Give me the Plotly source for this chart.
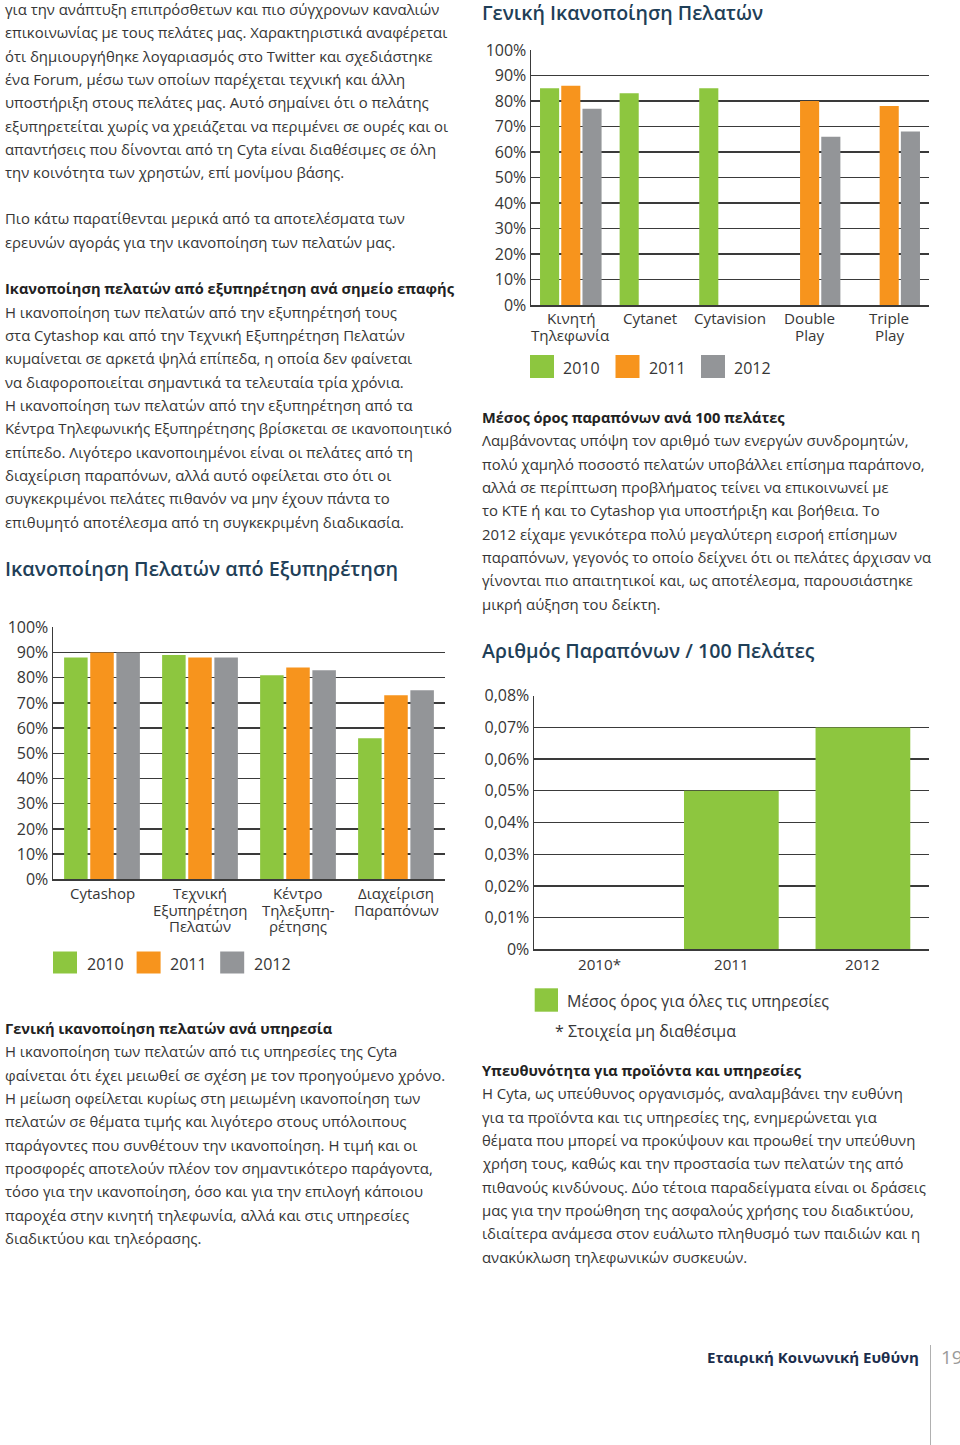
import plotly.graph_objects as go

W, H = 960, 1445

# ---------------- DATA ----------------
years = ["2010", "2011", "2012"]
year_colors = ["#8DC63F", "#F7941D", "#939598"]

# Γενική Ικανοποίηση Πελατών (per service)
services = ["Κινητή Τηλεφωνία", "Cytanet", "Cytavision", "Double Play", "Triple Play"]
service_label_lines = [["Κινητή", "Τηλεφωνία"], ["Cytanet"], ["Cytavision"], ["Double", "Play"], ["Triple", "Play"]]
services_2010 = [85, 83, 85, None, None]
services_2011 = [86, None, None, 80, 78]
services_2012 = [77, None, None, 66, 68]

# Ικανοποίηση Πελατών από Εξυπηρέτηση (per touch point)
touchpoints = ["Cytashop", "Τεχνική Εξυπηρέτηση Πελατών", "Κέντρο Τηλεξυπηρέτησης", "Διαχείριση Παραπόνων"]
touch_label_lines = [["Cytashop"], ["Τεχνική", "Εξυπηρέτηση", "Πελατών"], ["Κέντρο", "Τηλεξυπη-", "ρέτησης"], ["Διαχείριση", "Παραπόνων"]]
touch_2010 = [88, 89, 81, 56]
touch_2011 = [90, 88, 84, 73]
touch_2012 = [90, 88, 83, 75]

# Αριθμός Παραπόνων / 100 Πελάτες
complaint_years = [2010, 2011, 2012]
complaint_labels = ["2010*", "2011", "2012"]
complaints = [None, 0.05, 0.07]
complaint_legend = "Μέσος όρος για όλες τις υπηρεσίες"
complaint_note = "* Στοιχεία μη διαθέσιμα"

pct_tickvals = [0, 10, 20, 30, 40, 50, 60, 70, 80, 90, 100]
pct_ticktext = ["0%", "10%", "20%", "30%", "40%", "50%", "60%", "70%", "80%", "90%", "100%"]
cmp_tickvals = [0, 0.01, 0.02, 0.03, 0.04, 0.05, 0.06, 0.07, 0.08]
cmp_ticktext = ["0%", "0,01%", "0,02%", "0,03%", "0,04%", "0,05%", "0,06%", "0,07%", "0,08%"]

# ---------------- TEXT ----------------
left_top = [
    "για την ανάπτυξη επιπρόσθετων και πιο σύγχρονων καναλιών",
    "επικοινωνίας με τους πελάτες μας. Χαρακτηριστικά αναφέρεται",
    "ότι δημιουργήθηκε λογαριασμός στο Twitter και σχεδιάστηκε",
    "ένα Forum, μέσω των οποίων παρέχεται τεχνική και άλλη",
    "υποστήριξη στους πελάτες μας. Αυτό σημαίνει ότι ο πελάτης",
    "εξυπηρετείται χωρίς να χρειάζεται να περιμένει σε ουρές και οι",
    "απαντήσεις που δίνονται από τη Cyta είναι διαθέσιμες σε όλη",
    "την κοινότητα των χρηστών, επί μονίμου βάσης.",
]
left_intro = [
    "Πιο κάτω παρατίθενται μερικά από τα αποτελέσματα των",
    "ερευνών αγοράς για την ικανοποίηση των πελατών μας.",
]
left_touch_head = "Ικανοποίηση πελατών από εξυπηρέτηση ανά σημείο επαφής"
left_touch = [
    "Η ικανοποίηση των πελατών από την εξυπηρέτησή τους",
    "στα Cytashop και από την Τεχνική Εξυπηρέτηση Πελατών",
    "κυμαίνεται σε αρκετά ψηλά επίπεδα, η οποία δεν φαίνεται",
    "να διαφοροποιείται σημαντικά τα τελευταία τρία χρόνια.",
    "Η ικανοποίηση των πελατών από την εξυπηρέτηση από τα",
    "Κέντρα Τηλεφωνικής Εξυπηρέτησης βρίσκεται σε ικανοποιητικό",
    "επίπεδο. Λιγότερο ικανοποιημένοι είναι οι πελάτες από τη",
    "διαχείριση παραπόνων, αλλά αυτό οφείλεται στο ότι οι",
    "συγκεκριμένοι πελάτες πιθανόν να μην έχουν πάντα το",
    "επιθυμητό αποτέλεσμα από τη συγκεκριμένη διαδικασία.",
]
left_serv_head = "Γενική ικανοποίηση πελατών ανά υπηρεσία"
left_serv = [
    "Η ικανοποίηση των πελατών από τις υπηρεσίες της Cyta",
    "φαίνεται ότι έχει μειωθεί σε σχέση με τον προηγούμενο χρόνο.",
    "Η μείωση οφείλεται κυρίως στη μειωμένη ικανοποίηση των",
    "πελατών σε θέματα τιμής και λιγότερο στους υπόλοιπους",
    "παράγοντες που συνθέτουν την ικανοποίηση. Η τιμή και οι",
    "προσφορές αποτελούν πλέον τον σημαντικότερο παράγοντα,",
    "τόσο για την ικανοποίηση, όσο και για την επιλογή κάποιου",
    "παροχέα στην κινητή τηλεφωνία, αλλά και στις υπηρεσίες",
    "διαδικτύου και τηλεόρασης.",
]
right_cmp_head = "Μέσος όρος παραπόνων ανά 100 πελάτες"
right_cmp = [
    "Λαμβάνοντας υπόψη τον αριθμό των ενεργών συνδρομητών,",
    "πολύ χαμηλό ποσοστό πελατών υποβάλλει επίσημα παράπονο,",
    "αλλά σε περίπτωση προβλήματος τείνει να επικοινωνεί με",
    "το ΚΤΕ ή και το Cytashop για υποστήριξη και βοήθεια. Το",
    "2012 είχαμε γενικότερα πολύ μεγαλύτερη εισροή επίσημων",
    "παραπόνων, γεγονός το οποίο δείχνει ότι οι πελάτες άρχισαν να",
    "γίνονται πιο απαιτητικοί και, ως αποτέλεσμα, παρουσιάστηκε",
    "μικρή αύξηση του δείκτη.",
]
right_resp_head = "Υπευθυνότητα για προϊόντα και υπηρεσίες"
right_resp = [
    "Η Cyta, ως υπεύθυνος οργανισμός, αναλαμβάνει την ευθύνη",
    "για τα προϊόντα και τις υπηρεσίες της, ενημερώνεται για",
    "θέματα που μπορεί να προκύψουν και προωθεί την υπεύθυνη",
    "χρήση τους, καθώς και την προστασία των πελατών της από",
    "πιθανούς κινδύνους. Δύο τέτοια παραδείγματα είναι οι δράσεις",
    "μας για την προώθηση της ασφαλούς χρήσης του διαδικτύου,",
    "ιδιαίτερα ανάμεσα στον ευάλωτο πληθυσμό των παιδιών και η",
    "ανακύκλωση τηλεφωνικών συσκευών.",
]
title_services = "Γενική Ικανοποίηση Πελατών"
title_touch = "Ικανοποίηση Πελατών από Εξυπηρέτηση"
title_cmp = "Αριθμός Παραπόνων / 100 Πελάτες"
footer_text = "Εταιρική Κοινωνική Ευθύνη"
page_no = "19"

# ---------------- STYLE ----------------
FONT = "Open Sans"
BODY = "#363636"
HEAD = "#1f3f58"
GRID = "#3a3a3a"
LS = 23.35


def px(x):
    return x / W


def py(y):
    return 1 - y / H


fig = go.Figure()

for name, vals, col in zip(years, [services_2010, services_2011, services_2012], year_colors):
    fig.add_trace(go.Bar(x=services, y=vals, name=name, marker=dict(color=col, line=dict(width=0)),
                         xaxis="x", yaxis="y", showlegend=False, hoverinfo="skip"))
for name, vals, col in zip(years, [touch_2010, touch_2011, touch_2012], year_colors):
    fig.add_trace(go.Bar(x=touchpoints, y=vals, name=name, marker=dict(color=col, line=dict(width=0)),
                         xaxis="x2", yaxis="y2", showlegend=False, hoverinfo="skip"))
fig.add_trace(go.Bar(x=complaint_years, y=complaints, name=complaint_legend,
                     marker=dict(color=year_colors[0], line=dict(width=0)),
                     xaxis="x3", yaxis="y3", showlegend=False, hoverinfo="skip"))

tickfont = dict(family=FONT, size=16, color=BODY)


def xax(domain, anchor, rng, typ="category"):
    return dict(domain=domain, anchor=anchor, type=typ, range=rng, autorange=False, showline=True,
                linecolor=GRID, linewidth=1.5, showgrid=False, zeroline=False, showticklabels=False,
                ticks="", fixedrange=True, automargin=False)


def yax(domain, anchor, rng, tv, tt):
    return dict(domain=domain, anchor=anchor, range=rng, autorange=False, showline=True, linecolor=GRID,
                linewidth=1.5, showgrid=True, gridcolor=GRID, gridwidth=1.4, zeroline=False, tickvals=tv,
                ticktext=tt, tickfont=tickfont, ticks="", ticklabelstandoff=0, fixedrange=True,
                automargin=False)


fig.update_layout(
    template="none",
    width=W, height=H, autosize=False,
    margin=dict(l=0, r=0, t=0, b=0, pad=0, autoexpand=False),
    paper_bgcolor="white", plot_bgcolor="white",
    barmode="group", bargap=0.2, bargroupgap=0.1,
    font=dict(family=FONT, color=BODY),
    xaxis=xax([px(531), px(929)], "y", [-0.5, len(services) - 0.5]),
    yaxis=yax([py(305), py(50)], "x", [0, 100], pct_tickvals, pct_ticktext),
    xaxis2=xax([px(53), px(445)], "y2", [-0.5, len(touchpoints) - 0.5]),
    yaxis2=yax([py(879.3), py(627.3)], "x2", [0, 100], pct_tickvals, pct_ticktext),
    xaxis3=xax([px(534), px(928.7)], "y3", [complaint_years[0] - 0.5, complaint_years[-1] + 0.5], "linear"),
    yaxis3=yax([py(949.3), py(695.7)], "x3", [0, 0.08], cmp_tickvals, cmp_ticktext),
)

ann = []
shapes = []


def text(x, y, s, size=15, color=BODY, xanchor="left", weight=None, xref="paper"):
    f = dict(family=FONT, size=size, color=color)
    if weight:
        f["weight"] = weight
    ann.append(dict(x=x if xref != "paper" else px(x), y=py(y), xref=xref, yref="paper", text=s,
                    showarrow=False, xanchor=xanchor, yanchor="middle", font=f, align=xanchor))


def para(x, y0, lines, head=None):
    i = 0
    if head:
        text(x, y0, head, size=14.6, color="#222222", weight=700)
        i = 1
    for ln in lines:
        text(x, y0 + i * LS, ln, size=14.9)
        i += 1


para(3, 9, left_top)
para(3, 8 + 9 * LS, left_intro)
para(3, 8 + 12 * LS, left_touch, head=left_touch_head)
para(3, 1028, left_serv, head=left_serv_head)
para(480, 417, right_cmp, head=right_cmp_head)
para(480, 1070, right_resp, head=right_resp_head)

text(480, 12, title_services, size=19.6, color=HEAD, weight=600)
text(3, 568, title_touch, size=19.8, color=HEAD, weight=600)
text(480, 650, title_cmp, size=19.6, color=HEAD, weight=600)

for cat, lines in zip(services, service_label_lines):
    for k, ln in enumerate(lines):
        text(cat, 318 + k * 17, ln, size=15.2, xanchor="center", xref="x")
for cat, lines in zip(touchpoints, touch_label_lines):
    for k, ln in enumerate(lines):
        text(cat, 893 + k * 16.5, ln, size=15, xanchor="center", xref="x2")
for yr, lab in zip(complaint_years, complaint_labels):
    text(yr, 964, lab, size=15.2, xanchor="center", xref="x3")

for i, (yr, col) in enumerate(zip(years, year_colors)):
    x0 = 530 + i * 85.5
    shapes.append(dict(type="rect", xref="paper", yref="paper", x0=px(x0), x1=px(x0 + 24),
                       y0=py(378), y1=py(355), fillcolor=col, line=dict(width=0)))
    text(x0 + 31, 368, yr, size=16)
    x0 = 53 + i * 83.6
    shapes.append(dict(type="rect", xref="paper", yref="paper", x0=px(x0), x1=px(x0 + 24),
                       y0=py(973.5), y1=py(951.5), fillcolor=col, line=dict(width=0)))
    text(x0 + 31.5, 963.5, yr, size=16)

shapes.append(dict(type="rect", xref="paper", yref="paper", x0=px(534.7), x1=px(558),
                   y0=py(1011.7), y1=py(988.3), fillcolor=year_colors[0], line=dict(width=0)))
text(565, 1001.5, complaint_legend, size=16)
text(553, 1031, complaint_note, size=16)

text(921, 1357, footer_text, size=15, color="#1b2d4b", xanchor="right", weight=700)
text(939, 1357, page_no, size=19, color="#9a9a9a")
shapes.append(dict(type="line", xref="paper", yref="paper", x0=px(930.5), x1=px(930.5),
                   y0=py(1345), y1=py(1445), line=dict(color="#b0b0b0", width=1)))

fig.update_layout(annotations=ann, shapes=shapes)

fig.write_html("out.html", config={"displayModeBar": False, "staticPlot": True},
               post_script="document.body.style.margin='0';")
